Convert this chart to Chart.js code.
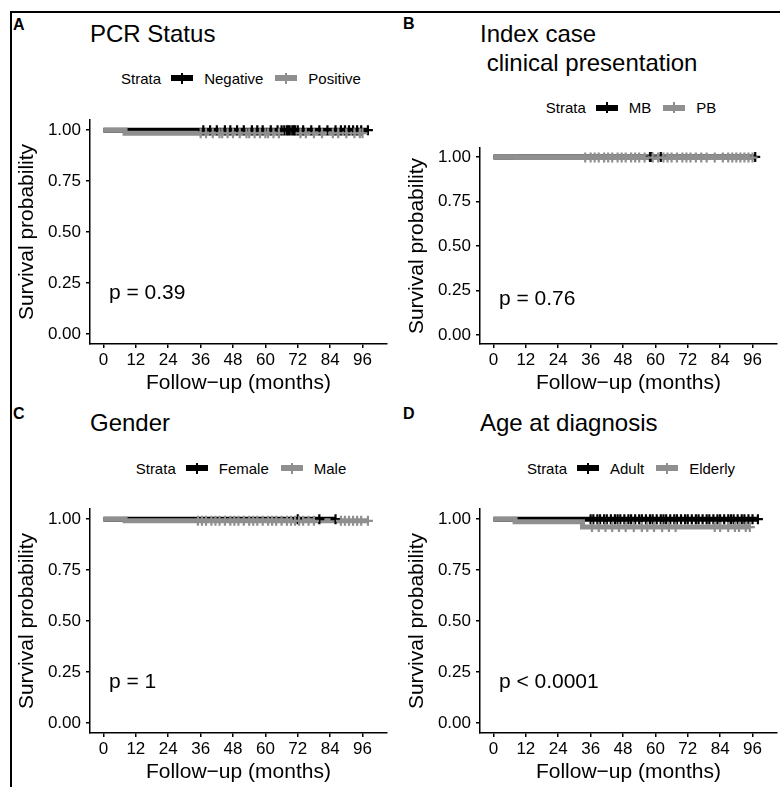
<!DOCTYPE html>
<html>
<head>
<meta charset="utf-8">
<script src="https://cdn.jsdelivr.net/npm/chart.js@4.4.1/dist/chart.umd.min.js"></script>
<style>
html,body{margin:0;padding:0;background:#fff;overflow:hidden;width:780px;height:787px;}
body{position:relative;font-family:"Liberation Sans",Arial,Helvetica,sans-serif;color:#000;}
.abs{position:absolute;}
.lbl{font-weight:bold;font-size:16px;line-height:16px;}
.ttl{font-size:24px;line-height:24px;white-space:pre;}
.leg{display:flex;justify-content:center;align-items:center;font-size:15px;line-height:15px;height:15px;white-space:pre;}
.sw{position:relative;width:22px;height:15px;margin:0 11px 0 10px;}
.sw .h{position:absolute;left:0;top:4.5px;width:22px;height:6px;}
.sw .v{position:absolute;left:10px;top:2px;width:2px;height:11px;}
</style>
</head>
<body>
<div class="abs" style="left:10px;top:11px;width:770px;height:2px;background:#000"></div>
<div class="abs" style="left:10px;top:11px;width:2px;height:776px;background:#000"></div>

<div class="abs lbl" style="left:13px;top:16.5px">A</div>
<div class="abs lbl" style="left:403px;top:15.5px">B</div>
<div class="abs lbl" style="left:13px;top:406px">C</div>
<div class="abs lbl" style="left:403px;top:405.5px">D</div>

<div class="abs ttl" id="tA" style="left:90px;top:22px"></div>
<div class="abs ttl" id="tB1" style="left:480px;top:22px"></div>
<div class="abs ttl" id="tB2" style="left:480px;top:50.5px"></div>
<div class="abs ttl" id="tC" style="left:90px;top:411px"></div>
<div class="abs ttl" id="tD" style="left:480px;top:411px"></div>

<div class="abs leg" id="lA" style="left:90px;width:302px;top:70.5px"></div>
<div class="abs leg" id="lB" style="left:480px;width:302px;top:100px"></div>
<div class="abs leg" id="lC" style="left:90px;width:302px;top:460.5px"></div>
<div class="abs leg" id="lD" style="left:480px;width:302px;top:460.5px"></div>

<canvas id="cA" class="abs" width="394" height="296" style="left:0px;top:100px"></canvas>
<canvas id="cB" class="abs" width="394" height="268" style="left:390px;top:128px"></canvas>
<canvas id="cC" class="abs" width="394" height="296" style="left:0px;top:489px"></canvas>
<canvas id="cD" class="abs" width="394" height="296" style="left:390px;top:489px"></canvas>

<script>
const FONT = '"Liberation Sans", Arial, Helvetica, sans-serif';
const BLACK = '#000000';
const GREY = '#8f8f8f';

// ---- shared axes ----
const xTickValues = [0, 12, 24, 36, 48, 60, 72, 84, 96];
const yTickValues = [0, 0.25, 0.5, 0.75, 1];
const xAxisTitle = 'Follow\u2212up (months)';
const yAxisTitle = 'Survival probability';
const legendTitle = 'Strata';

// ---- Panel A: PCR Status ----
const titleA = ['PCR Status'];
const groupsA = ['Negative', 'Positive'];
const negTimes = [0, 98];
const negSurv = [1, 1];
const negCensor = [37, 39.5, 42, 45, 47, 49.5, 52, 55, 57, 59, 62, 64.5, 66, 67, 68, 68.5, 69, 70, 70.5, 71, 72, 74, 77, 80, 83, 86, 88, 89.5, 91, 92.5, 94, 95.5, 98];
const posTimes = [0, 8, 96];
const posSurv = [1, 0.985, 0.985];
const posCensor = [36, 38, 40.5, 43, 44, 46, 48, 50.5, 53, 54, 56, 58, 60, 61, 63, 65, 73, 75, 78, 81, 85, 87, 90, 93, 95, 96];
const pvalA = 'p = 0.39';

// ---- Panel B: Index case clinical presentation ----
const titleB = ['Index case', ' clinical presentation'];
const groupsB = ['MB', 'PB'];
const mbTimes = [0, 97];
const mbSurv = [1, 1];
const mbCensor = [58, 58.6, 62, 97];
const pbTimes = [0, 8, 96];
const pbSurv = [1, 0.996, 0.996];
const pbCensor = [34, 36, 37.5, 39, 41, 42.5, 44, 46, 47.5, 49, 51, 52.5, 54, 56, 59, 61, 63, 64.5, 66, 68, 70, 71.5, 73, 75, 77, 79, 82, 85, 87, 88.5, 90, 91.5, 93, 94.5, 96];
const pvalB = 'p = 0.76';

// ---- Panel C: Gender ----
const titleC = ['Gender'];
const groupsC = ['Female', 'Male'];
const femTimes = [0, 86];
const femSurv = [1, 1];
const femCensor = [72, 80, 86];
const maleTimes = [0, 8, 98];
const maleSurv = [1, 0.992, 0.992];
const maleCensor = [35, 36.5, 38, 40, 41.5, 43, 45, 47, 48.5, 50, 52, 54, 55.5, 57, 59, 61, 62.5, 64, 66, 68, 69.5, 71, 72.5, 74, 76, 78, 88, 89.5, 91, 92.5, 94, 95.5, 98];
const pvalC = 'p = 1';

// ---- Panel D: Age at diagnosis ----
const titleD = ['Age at diagnosis'];
const groupsD = ['Adult', 'Elderly'];
const adultTimes = [0, 98];
const adultSurv = [1, 1];
const adultCensor = [36, 37, 38.5, 39.5, 41, 42, 43.5, 45, 46, 47, 48.5, 50, 51, 52.5, 54, 55, 56.5, 58, 59, 60.5, 62, 63, 64, 65.5, 67, 68, 69.5, 71, 72, 73.5, 75, 76, 77.5, 79, 80, 81.5, 83, 84, 85.5, 87, 88, 89, 90.5, 92, 93, 94.5, 96, 98];
const elderTimes = [0, 8, 33, 95];
const elderSurv = [1, 0.987, 0.961, 0.961];
const elderCensor = [36.5, 39, 41.5, 44, 46.5, 49, 52, 55, 57, 59.5, 62.5, 65, 67.5, 82, 84, 87, 89.5, 91, 93.5, 95];
const pvalD = 'p < 0.0001';

// ---- helpers ----
function survAt(times, surv, t) {
  let s = surv[0];
  for (let i = 0; i < times.length; i++) { if (times[i] <= t) s = surv[i]; }
  return s;
}
function kmDatasets(times, surv, censor, color, orderBase) {
  return [
    { data: times.map((t, i) => ({ x: t, y: surv[i] })), borderColor: color, borderWidth: 5,
      stepped: true, pointRadius: 0, fill: false, order: orderBase + 2, borderCapStyle: 'butt' },
    { data: censor.map(t => ({ x: t, y: survAt(times, surv, t) })), showLine: false,
      pointStyle: 'cross', pointRadius: 5, pointBorderWidth: 2.2, pointBorderColor: color,
      pointBackgroundColor: color, borderColor: color, order: orderBase }
  ];
}
const pvalPlugin = {
  id: 'pval',
  afterDatasetsDraw(chart, args, opts) {
    const { ctx } = chart;
    const x = chart.scales.x.getPixelForValue(opts.x);
    const y = chart.scales.y.getPixelForValue(opts.y);
    ctx.save();
    ctx.font = '21px ' + FONT;
    ctx.fillStyle = '#000';
    ctx.textAlign = 'left';
    ctx.textBaseline = 'middle';
    ctx.fillText(opts.text, x, y);
    ctx.restore();
  }
};
function makeChart(id, datasets, ptext) {
  const tickGrid = { display: true, drawOnChartArea: false, drawTicks: true, tickLength: 4, color: '#000', lineWidth: 1.5 };
  new Chart(document.getElementById(id), {
    type: 'line',
    data: { datasets: datasets },
    options: {
      responsive: false, animation: false, devicePixelRatio: 1, events: [],
      layout: { padding: { top: 20, right: 2, left: 0, bottom: 0 } },
      plugins: { legend: { display: false }, tooltip: { enabled: false }, pval: { text: ptext, x: 2, y: 0.2 } },
      scales: {
        x: {
          type: 'linear', min: -5, max: 105,
          afterBuildTicks: s => { s.ticks = xTickValues.map(v => ({ value: v })); },
          afterFit: s => { s.height = 52; },
          grid: tickGrid,
          border: { display: true, color: '#000', width: 1.5 },
          ticks: { color: '#000', font: { size: 17, family: FONT }, padding: 2, maxRotation: 0, autoSkip: false,
                   callback: v => String(v) },
          title: { display: true, text: xAxisTitle, color: '#000', font: { size: 21, family: FONT }, padding: { top: 0, bottom: 0 } }
        },
        y: {
          type: 'linear', min: -0.05, max: 1.05,
          afterBuildTicks: s => { s.ticks = yTickValues.map(v => ({ value: v })); },
          afterFit: s => { s.width = 90; },
          grid: tickGrid,
          border: { display: true, color: '#000', width: 1.5 },
          ticks: { color: '#000', font: { size: 17, family: FONT }, padding: 5, autoSkip: false,
                   callback: v => Number(v).toFixed(2) },
          title: { display: true, text: yAxisTitle, color: '#000', font: { size: 21, family: FONT }, padding: { top: 15, bottom: 0 } }
        }
      }
    },
    plugins: [pvalPlugin]
  });
}
function buildLegend(id, groups) {
  const el = document.getElementById(id);
  const colors = [BLACK, GREY];
  let html = '<span>' + legendTitle + '</span>';
  groups.forEach((g, i) => {
    html += '<span class="sw" style="margin-left:' + (i === 0 ? 10 : 12) + 'px"><span class="h" style="background:' + colors[i] +
            '"></span><span class="v" style="background:' + colors[i] + '"></span></span><span>' + g + '</span>';
  });
  el.innerHTML = html;
}

document.getElementById('tA').textContent = titleA[0];
document.getElementById('tB1').textContent = titleB[0];
document.getElementById('tB2').textContent = titleB[1];
document.getElementById('tC').textContent = titleC[0];
document.getElementById('tD').textContent = titleD[0];
buildLegend('lA', groupsA);
buildLegend('lB', groupsB);
buildLegend('lC', groupsC);
buildLegend('lD', groupsD);

makeChart('cA', [...kmDatasets(negTimes, negSurv, negCensor, BLACK, 2), ...kmDatasets(posTimes, posSurv, posCensor, GREY, 1)], pvalA);
makeChart('cB', [...kmDatasets(mbTimes, mbSurv, mbCensor, BLACK, 2), ...kmDatasets(pbTimes, pbSurv, pbCensor, GREY, 1)], pvalB);
makeChart('cC', [...kmDatasets(femTimes, femSurv, femCensor, BLACK, 2), ...kmDatasets(maleTimes, maleSurv, maleCensor, GREY, 1)], pvalC);
makeChart('cD', [...kmDatasets(adultTimes, adultSurv, adultCensor, BLACK, 2), ...kmDatasets(elderTimes, elderSurv, elderCensor, GREY, 1)], pvalD);
</script>
</body>
</html>
